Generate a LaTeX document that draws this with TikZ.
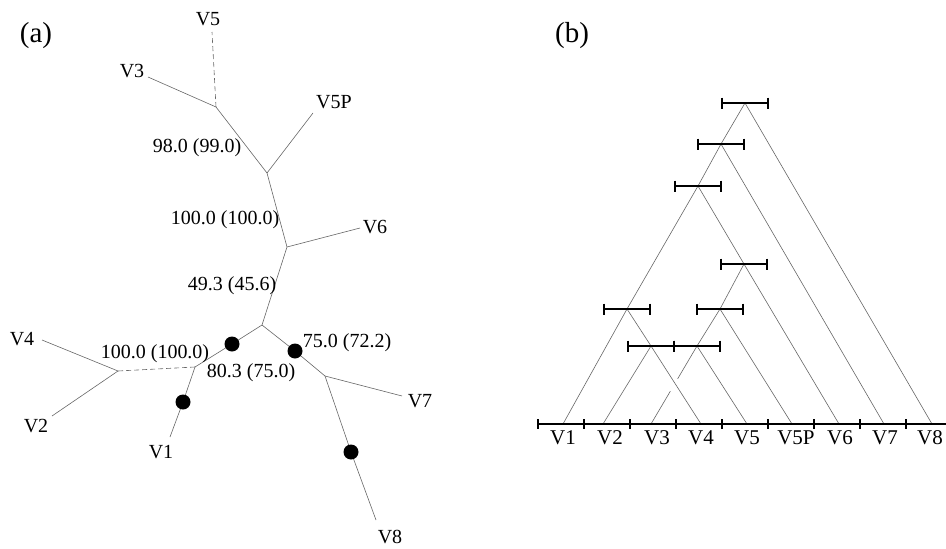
\documentclass[tikz,border=0pt]{standalone}
\usepackage{fontspec}
\setmainfont{Liberation Serif}
\usetikzlibrary{calc}
\newcommand\errbar[1]{%
  \draw[ebar] ($(#1)+(-23,0)$) -- ($(#1)+(23,0)$);
  \draw[ebar] ($(#1)+(-23,-5.5)$) -- ($(#1)+(-23,5.5)$);
  \draw[ebar] ($(#1)+(23,-5.5)$) -- ($(#1)+(23,5.5)$);}
\begin{document}
\begin{tikzpicture}[x=1pt,y=-1pt,
  br/.style={draw=black!60, line width=0.6pt},
  dsh/.style={br, dash pattern=on 5pt off 3pt},
  lbl/.style={font=\fontsize{20}{24}\selectfont, inner sep=0pt, anchor=base},
  blbl/.style={font=\fontsize{21}{25}\selectfont, inner sep=0pt, anchor=base},
  panel/.style={font=\fontsize{29}{32}\selectfont, inner sep=0pt, anchor=base},
  dot/.style={circle, fill=black, minimum size=15pt, inner sep=0pt},
  ebar/.style={draw=black, line width=2pt},
  axisline/.style={draw=black, line width=1.6pt},
]
\useasboundingbox (0,0) rectangle (946,549);

% ---------------- panel (a) ----------------
\node[panel] (pa) at (36,42) {(a)};

\coordinate (A) at (216,107);
\coordinate (B) at (267,173);
\coordinate (C) at (287,247);
\coordinate (D) at (262,325);
\coordinate (E) at (195,367);
\coordinate (F) at (118,371);
\coordinate (G) at (325,376);
\coordinate (p1) at (232,344);
\coordinate (p2) at (183,402);
\coordinate (p3) at (295,351);
\coordinate (p4) at (351,452);
\coordinate (eV5) at (212,32);
\coordinate (eV3) at (148,77);
\coordinate (eV5P) at (313,113);
\coordinate (eV6) at (360,228);
\coordinate (eV4) at (42,340);
\coordinate (eV2) at (52,416);
\coordinate (eV1) at (170,437);
\coordinate (eV7) at (402,396);
\coordinate (eV8) at (376,520);

\draw[dsh] (A) -- (eV5);
\draw[br] (A) -- (eV3);
\draw[br] (A) -- (B) -- (C) -- (D);
\draw[br] (B) -- (eV5P);
\draw[br] (C) -- (eV6);
\draw[br] (D) -- (p1) -- (E);
\draw[dsh] (E) -- (F);
\draw[br] (F) -- (eV4);
\draw[br] (F) -- (eV2);
\draw[br] (E) -- (p2) -- (eV1);
\draw[br] (D) -- (p3) -- (G);
\draw[br] (G) -- (eV7);
\draw[br] (G) -- (p4) -- (eV8);

\node[dot] (d1) at (p1) {};
\node[dot] (d2) at (p2) {};
\node[dot] (d3) at (p3) {};
\node[dot] (d4) at (p4) {};

\node[lbl] (tV5) at (208,25) {V5};
\node[lbl] (tV3) at (132,77) {V3};
\node[lbl] (tV5P) at (334,108) {V5P};
\node[lbl] (tV6) at (375,233) {V6};
\node[lbl] (tV4) at (22,345) {V4};
\node[lbl] (tV2) at (36,432) {V2};
\node[lbl] (tV1) at (161,458) {V1};
\node[lbl] (tV7) at (420,407) {V7};
\node[lbl] (tV8) at (390,543) {V8};

\node[lbl] (s1) at (197,152) {98.0 (99.0)};
\node[lbl] (s2) at (225,224) {100.0 (100.0)};
\node[lbl] (s3) at (232,290) {49.3 (45.6)};
\node[lbl] (s4) at (155,358) {100.0 (100.0)};
\node[lbl] (s5) at (251,377) {80.3 (75.0)};
\node[lbl] (s6) at (347,347) {75.0 (72.2)};

% ---------------- panel (b) ----------------
\node[panel] (pb) at (572,42) {(b)};

\coordinate (r1) at (745,103);
\coordinate (r2) at (721,144);
\coordinate (r3) at (698,186);
\coordinate (r4) at (744,264);
\coordinate (r5) at (627,309);
\coordinate (r7) at (720,309);
\coordinate (r6) at (651,346);
\coordinate (r8) at (697,346);
\coordinate (l1) at (563,424);
\coordinate (l2) at (603,424);
\coordinate (l3) at (651,424);
\coordinate (l4) at (701,424);
\coordinate (l5) at (747,424);
\coordinate (l6) at (792,424);
\coordinate (l7) at (839,424);
\coordinate (l8) at (884,424);
\coordinate (l9) at (932,424);

\draw[br] (r1) -- (r2) -- (r3) -- (r5) -- (l1);
\draw[br] (r1) -- (l9);
\draw[br] (r2) -- (l8);
\draw[br] (r3) -- (r4) -- (l7);
\draw[br] (r4) -- (r7) -- (r8) -- (l5);
\draw[br] (r7) -- (l6);
\draw[br] (r5) -- (r6) -- (l2);
\draw[br] (r6) -- (l4);
\draw[br] (r8) -- ($(r8)!0.42!(l3)$);
\draw[br] ($(r8)!0.58!(l3)$) -- (l3);

\errbar{r1}
\errbar{r2}
\errbar{r3}
\errbar{r4}
\errbar{r5}
\errbar{r7}
\errbar{r6}
\errbar{r8}

\draw[axisline] (538,424) -- (946,424);
\foreach \k in {0,...,8} {
  \draw[axisline] ({538+46*\k},419) -- ({538+46*\k},429);
}

\node[blbl] (bV1) at (563,444) {V1};
\node[blbl] (bV2) at (610,444) {V2};
\node[blbl] (bV3) at (657,444) {V3};
\node[blbl] (bV4) at (701,444) {V4};
\node[blbl] (bV5) at (747,444) {V5};
\node[blbl] (bV5P) at (796,444) {V5P};
\node[blbl] (bV6) at (840,444) {V6};
\node[blbl] (bV7) at (885,444) {V7};
\node[blbl] (bV8) at (930,444) {V8};
\end{tikzpicture}
\end{document}
